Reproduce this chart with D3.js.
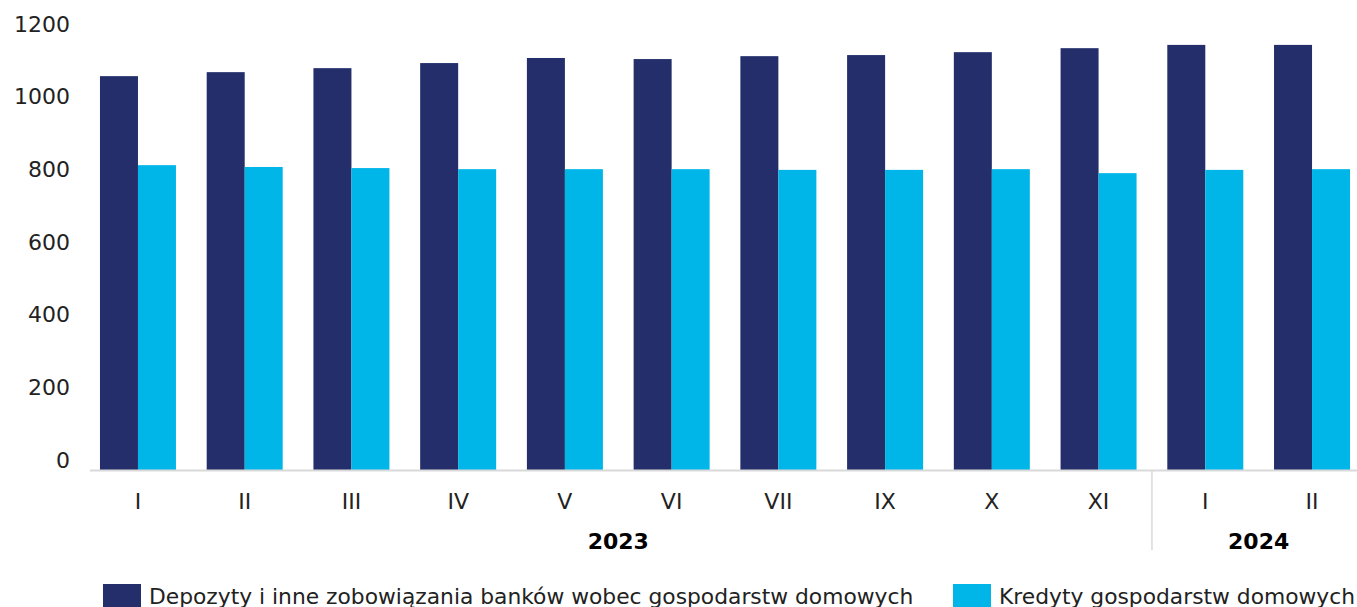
<!DOCTYPE html>
<html>
<head>
<meta charset="utf-8">
<script src="https://cdn.jsdelivr.net/npm/d3@7"></script>
<style>
  body { margin: 0; background: #fff; }
  svg { display: block; font-family: "DejaVu Sans", sans-serif; }
</style>
</head>
<body>
<svg id="chart" width="1357" height="607"></svg>
<script>
// months shown on the x axis (VIII is missing in the source)
const months = ['I', 'II', 'III', 'IV', 'V', 'VI', 'VII', 'IX', 'X', 'XI', 'I', 'II'];
const years = [
    { label: '2023', from: 0, to: 9 },
    { label: '2024', from: 10, to: 11 }
];
const deposits = [1084, 1095, 1106, 1120, 1134, 1131, 1139, 1142, 1150, 1161, 1170, 1170];
const credits = [839, 834, 831, 828, 828, 828, 826, 826, 828, 817, 826, 828];
const seriesNames = [
    'Depozyty i inne zobowiązania banków wobec gospodarstw domowych',
    'Kredyty gospodarstw domowych'
];
const colors = ['#232e6a', '#00b6e8'];
const yTicks = [0, 200, 400, 600, 800, 1000, 1200];

const svg = d3.select('#chart');
const baseY = 470;

const x = d3.scaleBand()
    .domain(d3.range(months.length))
    .range([84.6, 1365.4])
    .paddingInner(0.288)
    .paddingOuter(0.144);

const xInner = d3.scaleBand()
    .domain([0, 1])
    .range([0, x.bandwidth()]);

const y = d3.scaleLinear().domain([0, 1200]).range([baseY, 34]);

// y labels
const yAxis = d3.axisLeft(y)
    .tickValues(yTicks)
    .tickFormat(d3.format('d'))
    .tickSize(0)
    .tickPadding(0);
const yg = svg.append('g')
    .attr('transform', 'translate(70,-10)')
    .call(yAxis);
yg.select('.domain').remove();
yg.selectAll('text')
    .attr('font-size', 22)
    .attr('font-family', '"DejaVu Sans", sans-serif')
    .attr('fill', '#222');

// bars
const groups = svg.append('g')
    .selectAll('g')
    .data(months.map((m, i) => ({ i, vals: [deposits[i], credits[i]] })))
    .join('g')
    .attr('transform', d => `translate(${x(d.i)},0)`);

groups.selectAll('rect')
    .data(d => d.vals.map((v, k) => ({ k, v })))
    .join('rect')
    .attr('x', d => xInner(d.k))
    .attr('width', xInner.bandwidth())
    .attr('y', d => y(d.v))
    .attr('height', d => baseY - y(d.v))
    .attr('fill', d => colors[d.k]);

// baseline
svg.append('line')
    .attr('x1', 90).attr('x2', 1357)
    .attr('y1', baseY + 0.5).attr('y2', baseY + 0.5)
    .attr('stroke', '#d9d9d9')
    .attr('stroke-width', 2);

// month labels
svg.append('g')
    .selectAll('text')
    .data(months)
    .join('text')
    .attr('x', (d, i) => x(i) + x.bandwidth() / 2)
    .attr('y', 509)
    .attr('text-anchor', 'middle')
    .attr('font-size', 22)
    .attr('fill', '#222')
    .text(d => d);

// year separator
const sepX = (x(years[0].to) + x.bandwidth() + x(years[1].from)) / 2;
svg.append('line')
    .attr('x1', sepX).attr('x2', sepX)
    .attr('y1', baseY).attr('y2', 550)
    .attr('stroke', '#d9d9d9')
    .attr('stroke-width', 1.5);

// year labels
svg.append('g')
    .selectAll('text')
    .data(years)
    .join('text')
    .attr('x', d => (x(d.from) + x(d.to) + x.bandwidth()) / 2)
    .attr('y', 549)
    .attr('text-anchor', 'middle')
    .attr('font-size', 22)
    .attr('font-weight', 'bold')
    .attr('fill', '#000')
    .text(d => d.label);

// legend
const legendX = [103, 953];
const legend = svg.append('g')
    .selectAll('g')
    .data(seriesNames)
    .join('g')
    .attr('transform', (d, i) => `translate(${legendX[i]},584)`);

legend.append('rect')
    .attr('width', 38)
    .attr('height', 24)
    .attr('fill', (d, i) => colors[i]);

legend.append('text')
    .attr('x', 46)
    .attr('y', 20)
    .attr('font-size', 21.8)
    .attr('fill', '#222')
    .text(d => d);
</script>
</body>
</html>
